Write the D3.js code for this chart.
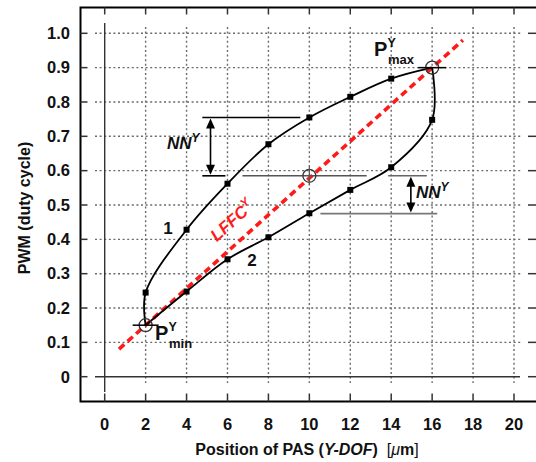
<!DOCTYPE html>
<html>
<head>
<meta charset="utf-8">
<script src="https://cdn.jsdelivr.net/npm/d3@7"></script>
<style>
  html, body { margin: 0; padding: 0; background: #fff; }
  svg { display: block; font-family: "Liberation Sans", Arial, sans-serif; }
</style>
</head>
<body>
<script>
// tick values and labels
const xTicks = [0, 2, 4, 6, 8, 10, 12, 14, 16, 18, 20];
const yTicks = [0, 0.1, 0.2, 0.3, 0.4, 0.5, 0.6, 0.7, 0.8, 0.9, 1.0];
const yTickLabels = ["0", "0.1", "0.2", "0.3", "0.4", "0.5", "0.6", "0.7", "0.8", "0.9", "1.0"];

// branch 1 (upper) and branch 2 (lower), Pmin -> Pmax
const branch1 = [[2, 0.15], [2, 0.245], [4, 0.428], [6, 0.562], [8, 0.677], [10, 0.755], [12, 0.815], [14, 0.868], [16, 0.9]];
const branch2 = [[2, 0.15], [4, 0.248], [6, 0.342], [8, 0.406], [10, 0.476], [12, 0.544], [14, 0.61], [16, 0.748], [16, 0.9]];

// special points
const pMin = [2, 0.15];
const pMax = [16, 0.9];
const pMid = [10, 0.585];

// LFFC line ends
const lffc = [[0.7, 0.0804], [17.5, 0.98]];

// NN annotation lines [x1, x2, y, colour]
const nnLines = [
  [4.77, 9.56, 0.755, "#000"],
  [4.77, 5.9, 0.585, "#000"],
  [6.73, 12.8, 0.585, "#555"],
  [13.85, 15.74, 0.585, "#666"],
  [10.54, 16.25, 0.475, "#777"]
];
// NN arrows [x, yTop, yBottom]
const nnArrows = [[5.17, 0.755, 0.585], [14.96, 0.585, 0.475]];

const width = 536, height = 462;
const frame = { left: 80.5, top: 7.5, right: 540, bottom: 401.5 };

const x = d3.scaleLinear().domain([0, 20]).range([104.7, 514]);
const y = d3.scaleLinear().domain([0, 1]).range([376.7, 33.3]);

const svg = d3.select('body').append('svg')
    .attr('width', width)
    .attr('height', height);

// grid
const grid = svg.append('g')
    .attr('stroke', '#6a6a6a')
    .attr('stroke-width', 1.4)
    .attr('stroke-dasharray', '2,2.6');
grid.selectAll('line.v')
    .data(xTicks.filter(d => d > 0))
    .enter().append('line')
    .attr('x1', d => x(d)).attr('x2', d => x(d))
    .attr('y1', 27).attr('y2', 383);
grid.selectAll('line.h')
    .data(yTicks.filter(d => d > 0))
    .enter().append('line')
    .attr('class', 'h')
    .attr('x1', 95).attr('x2', 521)
    .attr('y1', d => y(d)).attr('y2', d => y(d));

// zero axes
svg.append('line')
    .attr('x1', 95).attr('x2', 520)
    .attr('y1', y(0)).attr('y2', y(0))
    .attr('stroke', '#333').attr('stroke-width', 1.4);
svg.append('line')
    .attr('x1', x(0)).attr('x2', x(0))
    .attr('y1', 23).attr('y2', 392)
    .attr('stroke', '#333').attr('stroke-width', 1.4);

// frame
svg.append('path')
    .attr('d', `M${frame.right},${frame.top}H${frame.left}V${frame.bottom}H${frame.right}`)
    .attr('fill', 'none').attr('stroke', '#000').attr('stroke-width', 2);

const ticks = svg.append('g').attr('stroke', '#333').attr('stroke-width', 1.5);
xTicks.forEach(d => {
    ticks.append('line').attr('x1', x(d)).attr('x2', x(d)).attr('y1', frame.top).attr('y2', frame.top + 7);
    ticks.append('line').attr('x1', x(d)).attr('x2', x(d)).attr('y1', frame.bottom).attr('y2', frame.bottom - 8);
});
yTicks.forEach(d => {
    ticks.append('line').attr('x1', frame.left).attr('x2', frame.left + 7).attr('y1', y(d)).attr('y2', y(d));
    ticks.append('line').attr('x1', 528).attr('x2', 536).attr('y1', y(d)).attr('y2', y(d));
});

// tick labels
svg.append('g').selectAll('text')
    .data(yTicks)
    .enter().append('text')
    .attr('x', 70)
    .attr('y', d => y(d) + 5.8)
    .attr('text-anchor', 'end')
    .attr('font-size', 16.5).attr('font-weight', 'bold').attr('fill', '#111')
    .text((d, i) => yTickLabels[i]);
svg.append('g').selectAll('text')
    .data(xTicks)
    .enter().append('text')
    .attr('x', d => x(d))
    .attr('y', 430)
    .attr('text-anchor', 'middle')
    .attr('font-size', 16.5).attr('font-weight', 'bold').attr('fill', '#111')
    .text(d => d);

// axis titles
const xt = svg.append('text')
    .attr('x', 307).attr('y', 455)
    .attr('text-anchor', 'middle')
    .attr('font-size', 16).attr('font-weight', 'bold').attr('fill', '#111')
    .attr('xml:space', 'preserve');
xt.append('tspan').text('Position of PAS (');
xt.append('tspan').attr('font-style', 'italic').text('Y-DOF');
xt.append('tspan').text(')  ');
xt.append('tspan').attr('font-weight', 'normal').text('[');
xt.append('tspan').attr('font-weight', 'normal').attr('font-style', 'italic').text('\u03bc');
xt.append('tspan').text('m');
xt.append('tspan').attr('font-weight', 'normal').text(']');

svg.append('text')
    .attr('transform', 'translate(30,208) rotate(-90)')
    .attr('text-anchor', 'middle')
    .attr('font-size', 16).attr('font-weight', 'bold').attr('fill', '#111')
    .text('PWM (duty cycle)');

// LFFC line
svg.append('line')
    .attr('x1', x(lffc[0][0])).attr('y1', y(lffc[0][1]))
    .attr('x2', x(lffc[1][0])).attr('y2', y(lffc[1][1]))
    .attr('stroke', '#ff1a1a').attr('stroke-width', 3.6)
    .attr('stroke-dasharray', '7,4.5');

const angle = Math.atan2(y(lffc[1][1]) - y(lffc[0][1]), x(lffc[1][0]) - x(lffc[0][0])) * 180 / Math.PI;
const lt = svg.append('text')
    .attr('transform', `translate(236,225) rotate(${angle})`)
    .attr('text-anchor', 'middle')
    .attr('font-size', 17).attr('font-weight', 'bold').attr('font-style', 'italic')
    .attr('fill', '#ff1a1a');
lt.append('tspan').text('LFFC');
lt.append('tspan').attr('dy', -7).attr('font-size', 12).text('Y');

// NN lines and arrows
svg.append('g').selectAll('line')
    .data(nnLines)
    .enter().append('line')
    .attr('x1', d => x(d[0])).attr('x2', d => x(d[1]))
    .attr('y1', d => y(d[2])).attr('y2', d => y(d[2]))
    .attr('stroke', d => d[3]).attr('stroke-width', 1.6);

nnArrows.forEach(a => {
    const ax = x(a[0]), y1 = y(a[1]), y2 = y(a[2]);
    svg.append('line')
        .attr('x1', ax).attr('x2', ax).attr('y1', y1 + 6).attr('y2', y2 - 6)
        .attr('stroke', '#000').attr('stroke-width', 1.6);
    svg.append('path')
        .attr('d', `M${ax},${y1 + 1}L${ax - 4.5},${y1 + 11}L${ax + 4.5},${y1 + 11}Z`)
        .attr('fill', '#000');
    svg.append('path')
        .attr('d', `M${ax},${y2 - 1}L${ax - 4.5},${y2 - 11}L${ax + 4.5},${y2 - 11}Z`)
        .attr('fill', '#000');
});

function nnLabel(px, py) {
    const t = svg.append('text')
        .attr('x', px).attr('y', py)
        .attr('font-size', 17).attr('font-weight', 'bold').attr('font-style', 'italic')
        .attr('fill', '#111');
    t.append('tspan').text('NN');
    t.append('tspan').attr('dy', -7).attr('font-size', 12).text('Y');
}
nnLabel(167, 149);
nnLabel(416, 198);

// branches
const line = d3.line()
    .x(d => x(d[0]))
    .y(d => y(d[1]))
    .curve(d3.curveCatmullRom.alpha(0.5));

[branch1, branch2].forEach(b => {
    svg.append('path')
        .attr('d', line(b))
        .attr('fill', 'none')
        .attr('stroke', '#000')
        .attr('stroke-width', 1.8);
    svg.append('g').selectAll('rect')
        .data(b.slice(1, -1))
        .enter().append('rect')
        .attr('x', d => x(d[0]) - 3)
        .attr('y', d => y(d[1]) - 3)
        .attr('width', 6).attr('height', 6)
        .attr('fill', '#000');
});

// circles with crosshairs
function marker(p, hw) {
    const cx = x(p[0]), cy = y(p[1]);
    svg.append('circle')
        .attr('cx', cx).attr('cy', cy).attr('r', 6.5)
        .attr('fill', 'none').attr('stroke', '#333').attr('stroke-width', 1.3);
    if (hw) {
        svg.append('line')
            .attr('x1', cx - hw[0]).attr('x2', cx + hw[1])
            .attr('y1', cy).attr('y2', cy)
            .attr('stroke', '#000').attr('stroke-width', 1.5);
    }
}
marker(pMin, [13, 13]);
marker(pMax, [14, 14]);
marker(pMid, null);
svg.append('line')
    .attr('x1', x(pMid[0])).attr('x2', x(pMid[0]))
    .attr('y1', y(pMid[1]) - 9).attr('y2', y(pMid[1]) + 9)
    .attr('stroke', '#555').attr('stroke-width', 1.2);

// branch labels
svg.append('text').attr('x', 168).attr('y', 234).attr('text-anchor', 'middle')
    .attr('font-size', 17).attr('font-weight', 'bold').attr('fill', '#111').text('1');
svg.append('text').attr('x', 252).attr('y', 266).attr('text-anchor', 'middle')
    .attr('font-size', 17).attr('font-weight', 'bold').attr('fill', '#111').text('2');

// P labels
function pLabel(px, py, sub) {
    svg.append('text').attr('x', px).attr('y', py)
        .attr('font-size', 20).attr('font-weight', 'bold').attr('fill', '#111').text('P');
    svg.append('text').attr('x', px + 13.5).attr('y', py - 9)
        .attr('font-size', 12.5).attr('font-weight', 'bold').attr('fill', '#111').text('Y');
    svg.append('text').attr('x', px + 14).attr('y', py + 8)
        .attr('font-size', 13).attr('font-weight', 'bold').attr('fill', '#111').text(sub);
}
pLabel(374, 56, 'max');
pLabel(155, 340, 'min');
</script>
</body>
</html>
